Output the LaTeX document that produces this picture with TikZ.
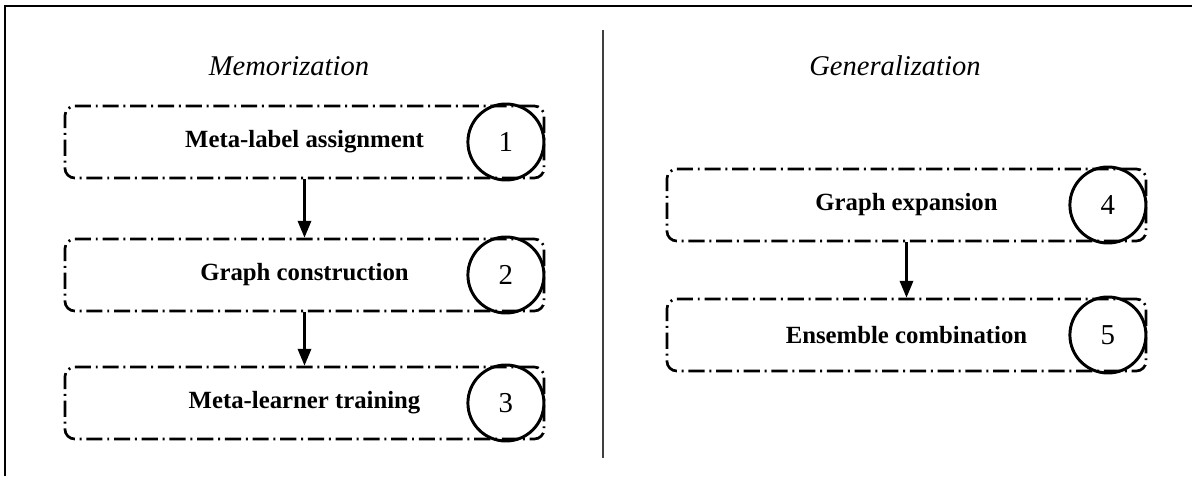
\documentclass[tikz,border=0pt]{standalone}
\usepackage{fontspec}
\setmainfont{Liberation Serif}
\usepackage{tikz}
\usetikzlibrary{arrows.meta}

\begin{document}
\begin{tikzpicture}[x=0.025cm,y=-0.025cm]
    \tikzstyle{stage}=[rectangle,draw,rounded corners=7pt,line width=1.9pt,
      dash pattern=on 11.5pt off 3.4pt on 1.4pt off 3.4pt,
      minimum width=11.975cm,minimum height=1.8cm,
      font=\fontsize{17.6}{20}\selectfont\bfseries]
    \tikzstyle{num}=[circle,draw,line width=2.1pt,minimum size=1.9cm,inner sep=0pt,
      font=\fontsize{20.5}{24}\selectfont]
    \tikzstyle{phase}=[font=\fontsize{20.3}{24}\selectfont\itshape]
    \tikzstyle{flow}=[line width=1.7pt,-{Triangle[length=12pt,width=9.5pt]}]
    \useasboundingbox (0,0) rectangle (1192,476);
    % frame and divider
    \draw[line width=1.3pt] (5,476) -- (5,6) -- (1192,6);
    \draw[line width=1.3pt,black!75] (603,30) -- (603,458);
    % memorization
    \node[phase] (memo) at (289,66) {Memorization};
    \node[stage] (mla) at (304.5,142) {Meta-label assignment};
    \node[stage] (gc) at (304.5,275) {Graph construction};
    \node[stage] (mlt) at (304.5,403) {Meta-learner training};
    \node[num,anchor=east] (n1) at (mla.east) {1};
    \node[num,anchor=east] (n2) at (gc.east) {2};
    \node[num,anchor=east] (n3) at (mlt.east) {3};
    \draw[flow] (mla) -- (gc);
    \draw[flow] (gc) -- (mlt);
    % generalization
    \node[phase] (gen) at (895,66) {Generalization};
    \node[stage] (ge) at (906.5,205) {Graph expansion};
    \node[stage] (ec) at (906.5,335) {Ensemble combination};
    \node[num,anchor=east] (n4) at (ge.east) {4};
    \node[num,anchor=east] (n5) at (ec.east) {5};
    \draw[flow] (ge) -- (ec);
\end{tikzpicture}
\end{document}
